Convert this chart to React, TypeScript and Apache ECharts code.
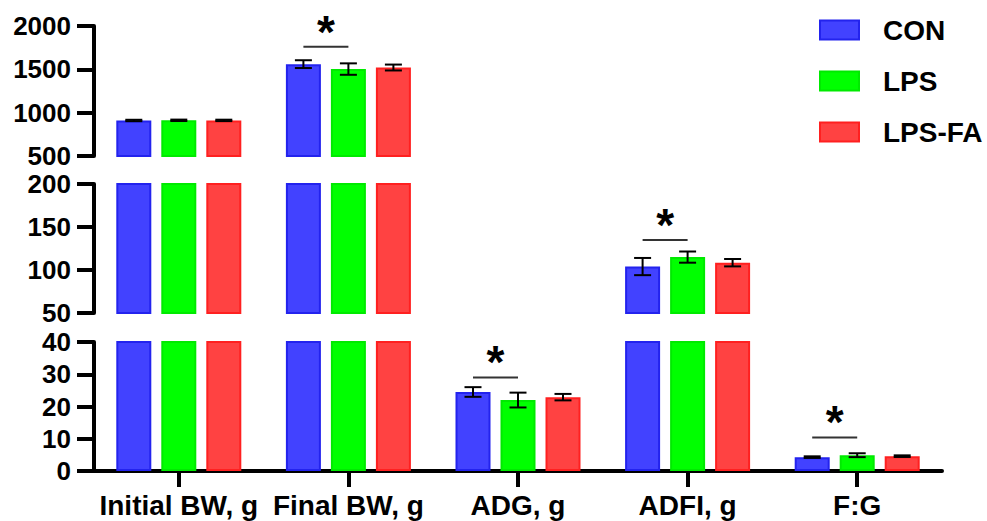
import React, { useEffect, useRef } from 'react';
import * as echarts from 'echarts';

const categories = ['Initial BW, g', 'Final BW, g', 'ADG, g', 'ADFI, g', 'F:G'];
const groups = ['CON', 'LPS', 'LPS-FA'];
const conMean = [910, 1560, 24.5, 104, 4.3];
const conSD = [8, 45, 1.5, 10, 0.25];
const lpsMean = [912, 1503, 22, 115, 4.9];
const lpsSD = [8, 66, 2.3, 6.5, 0.6];
const lpsfaMean = [911, 1521, 22.9, 108.5, 4.6];
const lpsfaSD = [8, 34, 1.0, 4.3, 0.25];
// significance bars (CON vs LPS)
const sigIndex = [1, 2, 3, 4];
const sigLevel = [1761, 29, 135, 10.4];
// broken y-axis segments (top, middle, bottom)
const segMin = [500, 50, 0];
const segMax = [2000, 200, 40];
const segInterval = [500, 50, 10];

const means = [conMean, lpsMean, lpsfaMean];
const sds = [conSD, lpsSD, lpsfaSD];
const colors = ['#4242ff', '#00ff00', '#ff4242'];
const borders = ['#2323ee', '#00ea00', '#ff2020'];
const FONT = '"Liberation Sans", Arial, sans-serif';
const BAR_W = 35;
const BAR_GAP = 10;
const offsets = [-(BAR_W + BAR_GAP), 0, BAR_W + BAR_GAP];

const gridPos = [
  { top: 26, height: 130 },
  { top: 184, height: 129 },
  { top: 342, height: 129 },
];

export default function App() {
  const ref = useRef<HTMLDivElement>(null);
  useEffect(() => {
    document.body.style.margin = '0';
    const chart = echarts.init(ref.current!, undefined, { renderer: 'svg' });

    const grid = gridPos.map((g) => ({ left: 94, right: 45, top: g.top, height: g.height }));
    const xAxis = gridPos.map((_, gi) => ({
      type: 'category',
      gridIndex: gi,
      data: categories,
      show: gi === 2,
      axisLine: { show: gi === 2, lineStyle: { color: '#000', width: 4 } },
      axisTick: { show: gi === 2, alignWithLabel: true, length: 16, lineStyle: { color: '#000', width: 4 } },
      axisLabel: {
        show: gi === 2,
        interval: 0,
        color: '#000',
        fontSize: 28,
        lineHeight: 28,
        fontWeight: 'bold',
        fontFamily: FONT,
        margin: 20,
      },
    }));
    const yAxis = gridPos.map((_, gi) => ({
      type: 'value',
      gridIndex: gi,
      min: segMin[gi],
      max: segMax[gi],
      interval: segInterval[gi],
      splitLine: { show: false },
      axisLine: { show: true, lineStyle: { color: '#000', width: 4 } },
      axisTick: { show: true, length: 17, lineStyle: { color: '#000', width: 4 } },
      axisLabel: {
        color: '#000',
        fontSize: 26,
        fontWeight: 'bold',
        fontFamily: FONT,
        margin: 23,
        formatter: (v: number) => String(v),
      },
    }));

    const series: any[] = [];
    gridPos.forEach((_, gi) => {
      groups.forEach((name, si) => {
        series.push({
          type: 'bar',
          name,
          xAxisIndex: gi,
          yAxisIndex: gi,
          barWidth: BAR_W,
          barGap: (BAR_GAP / BAR_W) * 100 + '%',
          clip: true,
          itemStyle: { color: colors[si], borderColor: borders[si], borderWidth: 2 },
          data: means[si].map((v) => (v > segMin[gi] ? v : '-')),
          z: 2,
        });
      });
      const errData: number[][] = [];
      groups.forEach((_, si) => {
        means[si].forEach((m, ci) => {
          if (m >= segMin[gi] && m <= segMax[gi]) errData.push([ci, m, sds[si][ci], si]);
        });
      });
      series.push({
        type: 'custom',
        xAxisIndex: gi,
        yAxisIndex: gi,
        z: 5,
        data: errData,
        encode: { x: 0, y: 1 },
        renderItem: (params: any, api: any) => {
          const c = api.value(0), m = api.value(1), sd = api.value(2), s = api.value(3);
          const x = api.coord([c, m])[0] + offsets[s];
          const yt = api.coord([c, m + sd])[1];
          const yb = api.coord([c, m - sd])[1];
          const st = { stroke: '#000', lineWidth: 2 };
          return {
            type: 'group',
            children: [
              { type: 'line', shape: { x1: x, y1: yt, x2: x, y2: yb }, style: st },
              { type: 'line', shape: { x1: x - 8.5, y1: yt, x2: x + 8.5, y2: yt }, style: st },
              { type: 'line', shape: { x1: x - 8.5, y1: yb, x2: x + 8.5, y2: yb }, style: st },
            ],
          };
        },
      });
      const sigData: number[][] = [];
      sigIndex.forEach((ci, k) => {
        const lv = sigLevel[k];
        if (lv >= segMin[gi] && lv <= segMax[gi]) sigData.push([ci, lv]);
      });
      series.push({
        type: 'custom',
        xAxisIndex: gi,
        yAxisIndex: gi,
        z: 6,
        data: sigData,
        encode: { x: 0, y: 1 },
        renderItem: (params: any, api: any) => {
          const p = api.coord([api.value(0), api.value(1)]);
          const x1 = p[0] + offsets[0];
          const x2 = p[0] + offsets[1];
          return {
            type: 'group',
            children: [
              { type: 'line', shape: { x1, y1: p[1], x2, y2: p[1] }, style: { stroke: '#333', lineWidth: 2 } },
              {
                type: 'text',
                x: (x1 + x2) / 2,
                y: p[1] - 15,
                style: {
                  text: '*',
                  fontSize: 46,
                  fontWeight: 'bold',
                  fontFamily: FONT,
                  fill: '#000',
                  align: 'center',
                  verticalAlign: 'middle',
                },
              },
            ],
          };
        },
      });
    });

    chart.setOption({
      animation: false,
      backgroundColor: '#fff',
      legend: {
        data: groups,
        orient: 'vertical',
        left: 814,
        top: 10,
        icon: 'rect',
        itemWidth: 39,
        itemHeight: 19,
        itemGap: 21,
        selectedMode: false,
        textStyle: {
          color: '#000',
          fontSize: 28,
          fontWeight: 'bold',
          fontFamily: FONT,
          lineHeight: 30,
          padding: [0, 0, 0, 19],
        },
      },
      grid,
      xAxis,
      yAxis,
      series,
    });
    return () => chart.dispose();
  }, []);
  return <div ref={ref} style={{ width: 987, height: 521 }} />;
}
